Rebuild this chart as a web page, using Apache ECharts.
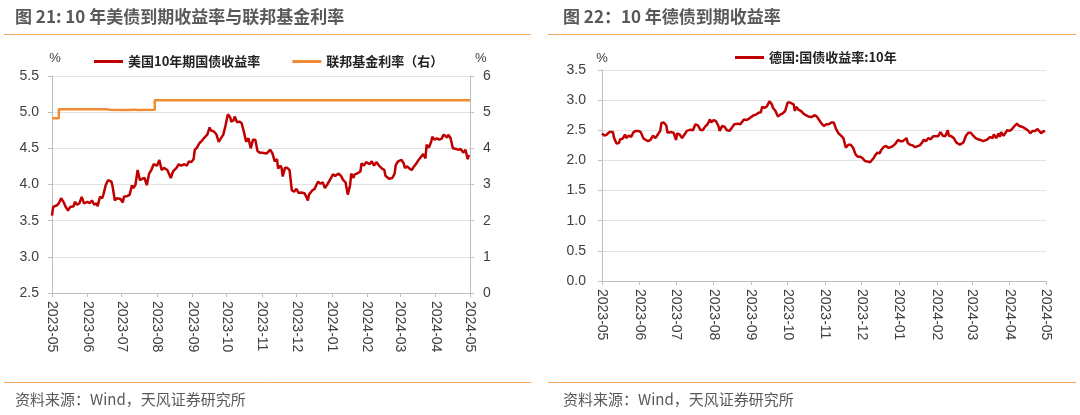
<!DOCTYPE html>
<html>
<head>
<meta charset="utf-8">
<script src="https://cdn.jsdelivr.net/npm/echarts@6/dist/echarts.min.js"></script>
<style>
html,body{margin:0;padding:0;background:#fff;}
#c{width:1080px;height:415px;}
</style>
</head>
<body>
<div id="c"></div>
<script>
// ---- Data ----
const xMin = '2023-05-01';
const xMax = '2024-05-01';

const usDates = ['2023-05-01','2023-05-02','2023-05-05','2023-05-07','2023-05-09','2023-05-11','2023-05-13','2023-05-15','2023-05-17','2023-05-20','2023-05-21','2023-05-23','2023-05-25','2023-05-27','2023-05-29','2023-06-01','2023-06-03','2023-06-05','2023-06-07','2023-06-09','2023-06-10','2023-06-12','2023-06-14','2023-06-15','2023-06-17','2023-06-19','2023-06-22','2023-06-23','2023-06-25','2023-06-27','2023-06-30','2023-07-02','2023-07-03','2023-07-06','2023-07-08','2023-07-10','2023-07-11','2023-07-13','2023-07-15','2023-07-17','2023-07-19','2023-07-21','2023-07-23','2023-07-25','2023-07-27','2023-07-29','2023-08-01','2023-08-03','2023-08-05','2023-08-07','2023-08-10','2023-08-13','2023-08-15','2023-08-18','2023-08-20','2023-08-22','2023-08-25','2023-08-27','2023-08-29','2023-08-31','2023-09-02','2023-09-03','2023-09-05','2023-09-07','2023-09-09','2023-09-11','2023-09-14','2023-09-16','2023-09-17','2023-09-20','2023-09-22','2023-09-24','2023-09-26','2023-09-28','2023-09-30','2023-10-02','2023-10-04','2023-10-05','2023-10-07','2023-10-08','2023-10-10','2023-10-12','2023-10-14','2023-10-16','2023-10-18','2023-10-20','2023-10-22','2023-10-24','2023-10-26','2023-10-28','2023-10-30','2023-11-01','2023-11-05','2023-11-08','2023-11-10','2023-11-12','2023-11-14','2023-11-15','2023-11-17','2023-11-18','2023-11-19','2023-11-21','2023-11-23','2023-11-25','2023-11-27','2023-11-29','2023-12-01','2023-12-03','2023-12-05','2023-12-08','2023-12-09','2023-12-11','2023-12-12','2023-12-15','2023-12-17','2023-12-19','2023-12-20','2023-12-22','2023-12-24','2023-12-26','2023-12-28','2023-12-31','2024-01-02','2024-01-04','2024-01-07','2024-01-09','2024-01-11','2024-01-13','2024-01-15','2024-01-17','2024-01-18','2024-01-20','2024-01-21','2024-01-23','2024-01-26','2024-01-27','2024-01-29','2024-01-31','2024-02-03','2024-02-05','2024-02-07','2024-02-09','2024-02-12','2024-02-14','2024-02-16','2024-02-17','2024-02-20','2024-02-23','2024-02-25','2024-02-26','2024-02-28','2024-03-02','2024-03-04','2024-03-05','2024-03-07','2024-03-09','2024-03-11','2024-03-13','2024-03-15','2024-03-17','2024-03-19','2024-03-21','2024-03-23','2024-03-24','2024-03-26','2024-03-28','2024-03-29','2024-03-31','2024-04-02','2024-04-04','2024-04-06','2024-04-08','2024-04-11','2024-04-12','2024-04-14','2024-04-16','2024-04-19','2024-04-21','2024-04-23','2024-04-25','2024-04-27','2024-04-29','2024-04-30'];
const usYield = [3.57,3.69,3.71,3.74,3.81,3.76,3.69,3.64,3.69,3.70,3.76,3.72,3.74,3.83,3.74,3.76,3.74,3.78,3.72,3.74,3.70,3.83,3.81,3.86,3.99,4.06,4.04,3.98,3.78,3.81,3.80,3.75,3.83,3.84,3.86,3.99,3.95,3.99,4.20,4.06,4.08,4.09,3.99,4.15,4.20,4.28,4.26,4.34,4.20,4.23,4.20,4.09,4.18,4.23,4.28,4.26,4.28,4.26,4.32,4.31,4.35,4.48,4.51,4.57,4.60,4.64,4.69,4.79,4.75,4.73,4.69,4.59,4.64,4.69,4.82,4.97,4.93,4.87,4.89,4.94,4.86,4.87,4.85,4.73,4.59,4.64,4.50,4.62,4.62,4.46,4.44,4.44,4.43,4.48,4.43,4.32,4.35,4.22,4.26,4.23,4.11,4.23,4.23,4.20,3.92,3.90,3.94,3.88,3.89,3.88,3.85,3.78,3.86,3.92,3.94,4.01,4.04,4.01,4.03,3.95,4.00,4.08,4.14,4.12,4.15,4.12,4.06,4.03,3.86,3.99,4.15,4.09,4.14,4.15,4.18,4.29,4.26,4.31,4.28,4.32,4.26,4.31,4.25,4.22,4.20,4.12,4.08,4.09,4.15,4.27,4.32,4.34,4.29,4.23,4.25,4.22,4.20,4.25,4.29,4.34,4.38,4.42,4.36,4.55,4.51,4.59,4.66,4.62,4.64,4.62,4.63,4.69,4.65,4.69,4.64,4.50,4.49,4.48,4.49,4.44,4.48,4.35,4.41];

const fedDates = ['2023-05-01','2023-05-07','2023-06-18','2023-06-20','2023-07-06','2023-07-13','2023-07-15','2023-07-30','2024-05-01'];
const fedRate  = [4.83,5.08,5.07,5.06,5.07,5.06,5.07,5.33,5.33];

const deDates = ['2023-05-01','2023-05-03','2023-05-05','2023-05-07','2023-05-08','2023-05-10','2023-05-11','2023-05-13','2023-05-15','2023-05-16','2023-05-18','2023-05-20','2023-05-21','2023-05-23','2023-05-25','2023-05-27','2023-05-29','2023-05-31','2023-06-02','2023-06-04','2023-06-06','2023-06-08','2023-06-10','2023-06-12','2023-06-14','2023-06-16','2023-06-18','2023-06-19','2023-06-21','2023-06-23','2023-06-24','2023-06-27','2023-06-29','2023-07-01','2023-07-02','2023-07-04','2023-07-06','2023-07-08','2023-07-10','2023-07-13','2023-07-15','2023-07-17','2023-07-19','2023-07-21','2023-07-23','2023-07-25','2023-07-27','2023-07-29','2023-07-30','2023-08-01','2023-08-03','2023-08-05','2023-08-06','2023-08-08','2023-08-10','2023-08-12','2023-08-14','2023-08-16','2023-08-18','2023-08-21','2023-08-23','2023-08-24','2023-08-26','2023-08-28','2023-08-30','2023-09-01','2023-09-03','2023-09-05','2023-09-07','2023-09-09','2023-09-10','2023-09-12','2023-09-14','2023-09-15','2023-09-16','2023-09-18','2023-09-19','2023-09-21','2023-09-23','2023-09-25','2023-09-27','2023-09-29','2023-10-01','2023-10-03','2023-10-04','2023-10-06','2023-10-07','2023-10-08','2023-10-10','2023-10-12','2023-10-14','2023-10-16','2023-10-18','2023-10-21','2023-10-23','2023-10-25','2023-10-27','2023-10-29','2023-10-31','2023-11-02','2023-11-04','2023-11-06','2023-11-08','2023-11-10','2023-11-12','2023-11-14','2023-11-16','2023-11-18','2023-11-20','2023-11-22','2023-11-24','2023-11-26','2023-11-28','2023-11-30','2023-12-02','2023-12-04','2023-12-06','2023-12-08','2023-12-09','2023-12-11','2023-12-12','2023-12-14','2023-12-16','2023-12-17','2023-12-19','2023-12-21','2023-12-23','2023-12-25','2023-12-27','2023-12-29','2023-12-31','2024-01-02','2024-01-04','2024-01-07','2024-01-08','2024-01-10','2024-01-12','2024-01-14','2024-01-15','2024-01-18','2024-01-20','2024-01-21','2024-01-23','2024-01-25','2024-01-27','2024-01-29','2024-01-31','2024-02-02','2024-02-04','2024-02-06','2024-02-08','2024-02-10','2024-02-11','2024-02-13','2024-02-15','2024-02-17','2024-02-20','2024-02-21','2024-02-23','2024-02-25','2024-02-27','2024-02-29','2024-03-02','2024-03-04','2024-03-06','2024-03-08','2024-03-10','2024-03-13','2024-03-14','2024-03-16','2024-03-18','2024-03-19','2024-03-21','2024-03-23','2024-03-24','2024-03-25','2024-03-27','2024-03-28','2024-03-30','2024-04-01','2024-04-03','2024-04-04','2024-04-05','2024-04-07','2024-04-09','2024-04-11','2024-04-13','2024-04-14','2024-04-16','2024-04-18','2024-04-20','2024-04-22','2024-04-24','2024-04-25','2024-04-27','2024-04-29','2024-04-30'];
const deYield = [2.45,2.41,2.43,2.47,2.50,2.47,2.37,2.28,2.29,2.35,2.36,2.43,2.37,2.41,2.39,2.47,2.49,2.49,2.47,2.37,2.34,2.32,2.34,2.41,2.37,2.43,2.49,2.62,2.63,2.58,2.46,2.47,2.46,2.34,2.45,2.43,2.37,2.43,2.49,2.51,2.50,2.60,2.58,2.51,2.50,2.56,2.60,2.68,2.63,2.67,2.65,2.57,2.49,2.57,2.56,2.50,2.49,2.54,2.60,2.61,2.60,2.63,2.68,2.67,2.69,2.72,2.75,2.76,2.79,2.80,2.89,2.87,2.90,2.93,2.98,2.93,2.87,2.82,2.73,2.76,2.78,2.82,2.96,2.96,2.97,2.93,2.82,2.89,2.84,2.82,2.78,2.75,2.73,2.72,2.75,2.73,2.67,2.61,2.57,2.60,2.60,2.63,2.63,2.52,2.45,2.41,2.37,2.21,2.26,2.26,2.21,2.10,2.06,2.06,2.03,1.99,1.98,1.97,1.95,2.04,2.08,2.13,2.12,2.17,2.22,2.24,2.21,2.22,2.24,2.28,2.34,2.32,2.32,2.37,2.29,2.26,2.25,2.22,2.19,2.25,2.30,2.34,2.32,2.37,2.35,2.40,2.40,2.40,2.47,2.41,2.40,2.50,2.41,2.40,2.37,2.30,2.26,2.26,2.30,2.41,2.46,2.46,2.41,2.37,2.35,2.34,2.32,2.34,2.35,2.39,2.37,2.43,2.37,2.45,2.39,2.47,2.41,2.43,2.50,2.49,2.52,2.50,2.57,2.61,2.57,2.56,2.54,2.54,2.50,2.45,2.49,2.49,2.52,2.50,2.45,2.49,2.47];

const leftTicksUS = {min: 2.5, max: 5.5, interval: 0.5};
const rightTicksFed = {min: 0, max: 6, interval: 1};
const ticksDE = {min: 0, max: 3.5, interval: 0.5};

const titles = ['图 21: 10 年美债到期收益率与联邦基金利率', '图 22：10 年德债到期收益率'];
const sourceText = '资料来源：Wind，天风证券研究所';
const seriesNames = ['美国10年期国债收益率', '联邦基金利率（右）', '德国:国债收益率:10年'];

// ---- Build ----
const zip = (a, b) => a.map((d, i) => [d, b[i]]);
const RED = '#C00000', ORANGE = '#F08A33', LINE_OR = '#F3A560';
const AX = '#BFBFBF', GRID = '#E3E3E3', TXT = '#404040';
const CJK = '"Noto Sans CJK SC","Microsoft YaHei",sans-serif';
const NUM = '"Liberation Sans",Arial,sans-serif';

function xAxisCfg(gridIndex) {
  return {
    type: 'time', gridIndex, min: xMin, max: xMax, splitNumber: 12,
    minInterval: 28 * 86400000,
    axisLine: {show: true, lineStyle: {color: AX, width: 1}},
    axisTick: {show: true, length: 4, lineStyle: {color: AX}},
    splitLine: {show: false},
    axisLabel: {rotate: -90, formatter: '{yyyy}-{MM}', margin: 8, color: TXT,
      fontFamily: NUM, fontSize: 14, hideOverlap: false, showMinLabel: true, showMaxLabel: true}
  };
}
function yAxisCfg(gridIndex, t, pos, dec, margin, nameCfg) {
  return Object.assign({
    type: 'value', gridIndex, position: pos, min: t.min, max: t.max, interval: t.interval,
    axisLine: {show: true, lineStyle: {color: AX, width: 1}},
    axisTick: {show: true, length: 4, lineStyle: {color: AX}},
    splitLine: {show: pos === 'left', lineStyle: {color: GRID, width: 1}},
    axisLabel: {color: TXT, fontFamily: NUM, fontSize: 14, margin,
      formatter: v => v.toFixed(dec)}
  }, nameCfg);
}

const chart = echarts.init(document.getElementById('c'), null, {renderer: 'canvas'});
chart.setOption({
  animation: false,
  backgroundColor: '#fff',
  title: [
    {text: titles[0], left: 15, top: 8, padding: 0, textStyle: {fontFamily: CJK, fontSize: 17, fontWeight: 'bold', color: '#595959'}},
    {text: titles[1], left: 563, top: 8, padding: 0, textStyle: {fontFamily: CJK, fontSize: 17, fontWeight: 'bold', color: '#595959'}},
    {text: sourceText, left: 15, top: 392, padding: 0, textStyle: {fontFamily: CJK, fontSize: 15, fontWeight: 'normal', color: '#595959'}},
    {text: sourceText, left: 563, top: 392, padding: 0, textStyle: {fontFamily: CJK, fontSize: 15, fontWeight: 'normal', color: '#595959'}}
  ],
  graphic: [
    {type: 'line', shape: {x1: 4, y1: 34.5, x2: 531, y2: 34.5}, style: {stroke: LINE_OR, lineWidth: 1}},
    {type: 'line', shape: {x1: 548, y1: 34.5, x2: 1076, y2: 34.5}, style: {stroke: LINE_OR, lineWidth: 1}},
    {type: 'line', shape: {x1: 4, y1: 382.5, x2: 531, y2: 382.5}, style: {stroke: LINE_OR, lineWidth: 1}},
    {type: 'line', shape: {x1: 548, y1: 382.5, x2: 1076, y2: 382.5}, style: {stroke: LINE_OR, lineWidth: 1}}
  ],
  legend: [
    {data: [seriesNames[0], seriesNames[1]], left: 89, top: 50, icon: 'rect', itemWidth: 29, itemHeight: 3, itemGap: 32,
      textStyle: {fontFamily: CJK, fontSize: 13, fontWeight: 'bold', color: '#222'}},
    {data: [seriesNames[2]], left: 730, top: 46, icon: 'rect', itemWidth: 29, itemHeight: 3,
      textStyle: {fontFamily: CJK, fontSize: 13, fontWeight: 'bold', color: '#222'}}
  ],
  grid: [
    {left: 52, right: 610, top: 76, bottom: 122},
    {left: 602, right: 34, top: 70, bottom: 134}
  ],
  xAxis: [xAxisCfg(0), xAxisCfg(1)],
  yAxis: [
    yAxisCfg(0, leftTicksUS, 'left', 1, 13, {name: '%', nameLocation: 'end', nameGap: 11,
      nameTextStyle: {fontFamily: NUM, fontSize: 13, color: TXT, align: 'center', verticalAlign: 'bottom', padding: [0, 0, 0, 6]}}),
    yAxisCfg(0, rightTicksFed, 'right', 0, 13, {name: '%', nameLocation: 'end', nameGap: 11,
      nameTextStyle: {fontFamily: NUM, fontSize: 13, color: TXT, align: 'left', verticalAlign: 'bottom', padding: [0, 0, 0, 5]}}),
    yAxisCfg(1, ticksDE, 'left', 1, 16, {name: '%', nameLocation: 'end', nameGap: 5,
      nameTextStyle: {fontFamily: NUM, fontSize: 13, color: TXT, align: 'center', verticalAlign: 'bottom'}})
  ],
  series: [
    {name: seriesNames[0], type: 'line', xAxisIndex: 0, yAxisIndex: 0, data: zip(usDates, usYield),
      symbol: 'none', lineStyle: {color: RED, width: 2.5}, itemStyle: {color: RED}, z: 3},
    {name: seriesNames[1], type: 'line', xAxisIndex: 0, yAxisIndex: 1, data: zip(fedDates, fedRate), step: 'end',
      symbol: 'none', lineStyle: {color: ORANGE, width: 2.5}, itemStyle: {color: ORANGE}, z: 2},
    {name: seriesNames[2], type: 'line', xAxisIndex: 1, yAxisIndex: 2, data: zip(deDates, deYield),
      symbol: 'none', lineStyle: {color: RED, width: 2.5}, itemStyle: {color: RED}, z: 3}
  ]
});
</script>
</body>
</html>
